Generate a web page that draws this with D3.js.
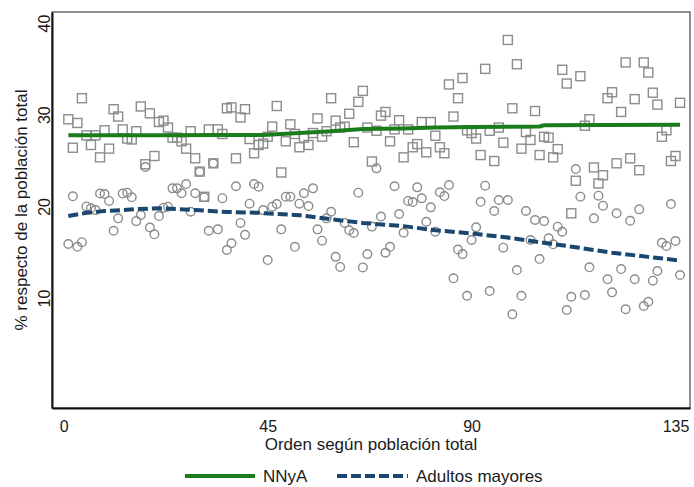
<!DOCTYPE html>
<html>
<head>
<meta charset="utf-8">
<script src="https://cdn.jsdelivr.net/npm/d3@7"></script>
<style>
    body { margin: 0; background: white; }
    text { font-family: 'Liberation Sans', Arial, sans-serif; fill: #1a1a1a; }
</style>
</head>
<body>
<div id="chart-container"></div>
<script>
// % of total population, one value per municipality (ordered by total population)
const nnya = [
    29.5, 26.4, 29.1, 31.8, 27.75, 26.7, 27.75, 25.35, 28.3, 26.3,
    30.6, 29.8, 28.4, 27.4, 27.3, 28.2, 30.9, 24.6, 30.15, 25.5,
    29.2, 29.35, 28.6, 27.5, 27.5, 27.1, 26.3, 28.2, 25.25, 23.8,
    21.05, 28.4, 24.7, 28.4, 27.9, 30.7, 30.8, 25.25, 29.7, 30.6,
    27.35, 25.8, 26.7, 26.85, 27.6, 28.7, 30.95, 23.7, 27.1, 28.95,
    27.9, 26.45, 27.5, 26.7, 28.0, 29.6, 27.6, 28.2, 31.8, 29.35,
    28.6, 28.7, 30.1, 27.0, 31.4, 32.6, 28.6, 24.9, 28.25, 29.9,
    30.3, 27.1, 28.4, 29.4, 25.35, 28.4, 26.45, 26.8, 29.2, 25.9,
    29.2, 27.7, 26.45, 25.8, 33.3, 29.8, 31.8, 34.0, 28.3, 28.0,
    27.4, 25.6, 35.0, 28.25, 24.95, 28.6, 26.95, 38.15, 30.7, 35.5,
    26.3, 28.1, 27.25, 30.4, 25.6, 27.6, 27.5, 25.35, 26.25, 34.9,
    33.4, 19.25, 22.8, 34.2, 28.8, 29.5, 24.25, 22.5, 23.4, 31.8,
    32.45, 24.7, 30.3, 35.7, 25.25, 31.7, 23.95, 35.7, 34.6, 32.4,
    31.1, 27.6, 28.3, 24.95, 25.5, 31.3
]

const mayores = [
    15.9, 21.1, 15.6, 16.1, 20.0, 19.8, 19.6, 21.4, 21.35, 20.6,
    17.35, 18.7, 21.4, 21.5, 21.0, 18.4, 19.06, 24.3, 17.7, 16.96,
    18.95, 19.86, 19.97, 21.97, 21.97, 21.43, 22.44, 19.42, 21.43, 23.78,
    21.0, 17.35, 24.7, 17.5, 20.9, 15.25, 15.98, 22.2, 18.2, 16.9,
    20.3, 22.44, 22.15, 19.6, 14.15, 19.97, 20.26, 17.5, 21.06, 21.06,
    15.6, 20.3, 21.43, 20.04, 21.97, 17.5, 16.26, 18.7, 19.42, 14.5,
    13.4, 18.2, 17.4, 17.1, 21.5, 13.35, 14.8, 17.8, 24.15, 18.9,
    14.95, 15.6, 22.2, 19.17, 17.13, 20.6, 20.48, 22.08, 20.88, 18.33,
    19.9, 17.24, 21.54, 21.13, 22.33, 12.16, 15.3, 14.8, 10.26, 16.34,
    17.72, 20.5, 22.26, 10.77, 19.5, 20.7, 15.5, 20.7, 8.23, 13.06,
    10.26, 19.5, 16.34, 18.52, 14.26, 18.4, 16.52, 15.87, 17.79, 17.24,
    8.7, 10.15, 24.08, 21.06, 10.34, 13.36, 18.7, 21.17, 20.08, 12.05,
    10.63, 19.25, 13.17, 8.78, 18.44, 12.05, 19.68, 9.14, 9.6, 11.9,
    12.95, 16.04, 15.68, 20.26, 16.23, 12.52
]

// smoothed fits
const nnyaFitOrder = [1, 21, 36, 44, 52, 59, 66, 75, 82, 90, 98, 105, 106, 120, 136]
const nnyaFit = [27.75, 27.75, 27.8, 27.8, 28.0, 28.2, 28.45, 28.5, 28.6, 28.65, 28.7, 28.72, 28.85, 28.87, 28.9]

const mayoresFitOrder = [1, 5, 9, 13, 16, 21, 29, 36, 43, 52, 59, 66, 75, 82, 90, 98, 105, 113, 121, 129, 136]
const mayoresFit = [18.95, 19.3, 19.5, 19.6, 19.7, 19.8, 19.6, 19.4, 19.3, 19.05, 18.6, 18.2, 17.85, 17.4, 17.05, 16.6, 16.1, 15.55, 14.95, 14.5, 14.1]

const xTicks = [0, 45, 90, 135]
const yTicks = [10, 20, 30, 40]

const width = 694
const height = 487
const plot = { left: 52, right: 690, top: 12, bottom: 408 }

const markerColour = '#8c8c8c'
const nnyaColour = '#1b7c1b'
const mayoresColour = '#1a476f'

const svg = d3.select('#chart-container')
    .append('svg')
    .attr('id', 'chart-svg')
    .attr('width', width)
    .attr('height', height)

const x = d3.scaleLinear()
    .domain([-2.6, 138.2])
    .range([plot.left, plot.right])

const y = d3.scaleLinear()
    .domain([-1.98, 41.2])
    .range([plot.bottom, plot.top])

const order = nnya.map((d, i) => i + 1)

// frame
svg.append('rect')
    .attr('x', plot.left)
    .attr('y', plot.top)
    .attr('width', plot.right - plot.left)
    .attr('height', plot.bottom - plot.top)
    .attr('fill', 'none')
    .attr('stroke', '#222')
    .attr('stroke-width', 1)

// axes without ticks, just labels
const xAxis = svg.append('g')
    .attr('transform', `translate(0,${plot.bottom})`)
    .call(d3.axisBottom(x).tickValues(xTicks).tickSize(0).tickPadding(0))
xAxis.select('.domain').attr('stroke', '#111').attr('stroke-width', 2)
xAxis.selectAll('.tick text')
    .attr('y', 24)
    .attr('dy', 0)
    .style('font-size', '16px')
    .style('font-family', "'Liberation Sans', Arial, sans-serif")
    .attr('fill', '#1a1a1a')

const yAxis = svg.append('g')
    .attr('transform', `translate(${plot.left},0)`)
    .call(d3.axisLeft(y).tickValues(yTicks).tickSize(0).tickPadding(0))
yAxis.select('.domain').attr('stroke', '#111').attr('stroke-width', 2)
yAxis.selectAll('.tick text')
    .attr('x', 0)
    .attr('dy', 0)
    .attr('transform', 'translate(-2,0) rotate(-90)')
    .attr('text-anchor', 'middle')
    .style('font-size', '16px')
    .style('font-family', "'Liberation Sans', Arial, sans-serif")
    .attr('fill', '#1a1a1a')

svg.append('text')
    .attr('x', (plot.left + plot.right) / 2)
    .attr('y', 450)
    .attr('text-anchor', 'middle')
    .style('font-size', '17px')
    .text('Orden según población total')

svg.append('text')
    .attr('transform', `translate(27,${(plot.top + plot.bottom) / 2}) rotate(-90)`)
    .attr('text-anchor', 'middle')
    .style('font-size', '17px')
    .text('% respecto de la población total')

// scatter markers
const squareSize = 9
svg.append('g')
    .selectAll('rect')
    .data(order)
    .join('rect')
    .attr('x', d => x(d) - squareSize / 2)
    .attr('y', d => y(nnya[d - 1]) - squareSize / 2)
    .attr('width', squareSize)
    .attr('height', squareSize)
    .attr('fill', 'none')
    .attr('stroke', markerColour)
    .attr('stroke-width', 1.4)

svg.append('g')
    .selectAll('circle')
    .data(order)
    .join('circle')
    .attr('cx', d => x(d))
    .attr('cy', d => y(mayores[d - 1]))
    .attr('r', 4.3)
    .attr('fill', 'none')
    .attr('stroke', markerColour)
    .attr('stroke-width', 1.4)

// fitted lines
const line = d3.line()
    .x(d => x(d[0]))
    .y(d => y(d[1]))

svg.append('path')
    .datum(d3.zip(nnyaFitOrder, nnyaFit))
    .attr('d', line)
    .attr('fill', 'none')
    .attr('stroke', nnyaColour)
    .attr('stroke-width', 4)

svg.append('path')
    .datum(d3.zip(mayoresFitOrder, mayoresFit))
    .attr('d', line)
    .attr('fill', 'none')
    .attr('stroke', mayoresColour)
    .attr('stroke-width', 4)
    .attr('stroke-dasharray', '10,4')

// legend
const legend = svg.append('g').attr('class', 'legend')
const legendItems = [
    { label: 'NNyA', colour: nnyaColour, dash: null, x1: 185, x2: 255, tx: 263 },
    { label: 'Adultos mayores', colour: mayoresColour, dash: '10,4', x1: 337, x2: 408, tx: 416 }
]
for (let item of legendItems) {
    legend.append('line')
        .attr('x1', item.x1)
        .attr('x2', item.x2)
        .attr('y1', 476)
        .attr('y2', 476)
        .attr('stroke', item.colour)
        .attr('stroke-width', 4)
        .attr('stroke-dasharray', item.dash)
    legend.append('text')
        .attr('x', item.tx)
        .attr('y', 482)
        .style('font-size', '17px')
        .text(item.label)
}
</script>
</body>
</html>
